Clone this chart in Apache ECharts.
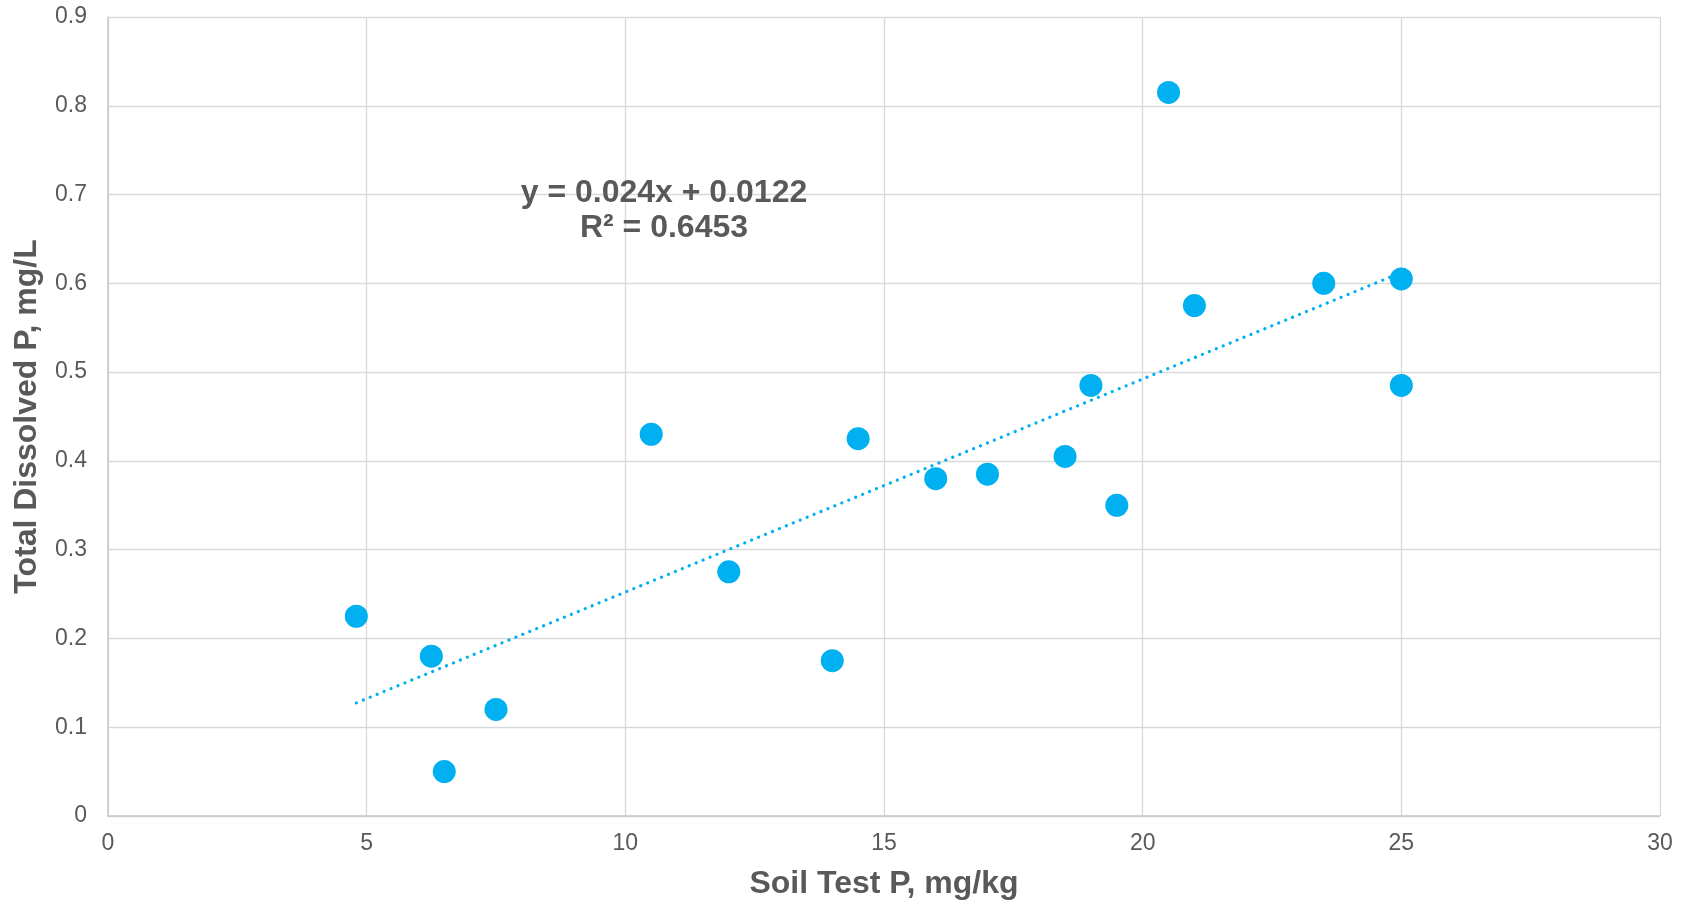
<!DOCTYPE html>
<html>
<head>
<meta charset="utf-8">
<title>Total Dissolved P vs Soil Test P</title>
<script src="https://cdn.jsdelivr.net/npm/echarts@6/dist/echarts.min.js"></script>
<style>
  html, body { margin: 0; padding: 0; background: #ffffff; }
  #chart { width: 1689px; height: 905px; }
</style>
</head>
<body>
<div id="chart"></div>
<script>
// Soil test P (mg/kg) and total dissolved P (mg/L) for each sample
const soilTestP = [4.8, 6.25, 6.5, 7.5, 10.5, 12, 14, 14.5, 16, 17, 18.5, 19, 19.5, 20.5, 21, 23.5, 25, 25];
const totalDissolvedP = [0.225, 0.18, 0.05, 0.12, 0.43, 0.275, 0.175, 0.425, 0.38, 0.385, 0.405, 0.485, 0.35, 0.815, 0.575, 0.6, 0.605, 0.485];

// Linear trendline fit
const slope = 0.024;
const intercept = 0.0122;
const rSquared = 0.6453;

const FONT = '"Liberation Sans", Arial, sans-serif';
const TEXT_COLOR = '#595959';
const MARK_COLOR = '#00B0F0';

const points = soilTestP.map((x, i) => [x, totalDissolvedP[i]]);
const xMin = Math.min(...soilTestP);
const xMax = Math.max(...soilTestP);
const trend = [xMin, xMax].map(x => [x, slope * x + intercept]);

const chart = echarts.init(document.getElementById('chart'), null, { renderer: 'canvas' });

chart.setOption({
  animation: false,
  backgroundColor: '#ffffff',
  grid: { left: 108, right: 29, top: 17, bottom: 86, containLabel: false },
  xAxis: {
    type: 'value',
    min: 0, max: 30, interval: 5,
    name: 'Soil Test P, mg/kg',
    nameLocation: 'middle',
    nameGap: 52,
    nameTextStyle: { fontFamily: FONT, fontSize: 32, fontWeight: 'bold', color: TEXT_COLOR },
    axisLine: { show: true, lineStyle: { color: '#c8c8c8', width: 1.5 } },
    axisTick: { show: false },
    axisLabel: { fontFamily: FONT, fontSize: 23, color: TEXT_COLOR, margin: 16 },
    splitLine: { show: true, lineStyle: { color: '#d9d9d9', width: 1.3 } }
  },
  yAxis: {
    type: 'value',
    min: 0, max: 0.9, interval: 0.1,
    name: 'Total Dissolved P, mg/L',
    nameLocation: 'middle',
    nameGap: 65,
    nameRotate: 90,
    nameTextStyle: { fontFamily: FONT, fontSize: 32, fontWeight: 'bold', color: TEXT_COLOR },
    axisLine: { show: true, lineStyle: { color: '#c8c8c8', width: 1.5 } },
    axisTick: { show: false },
    axisLabel: {
      fontFamily: FONT, fontSize: 23, color: TEXT_COLOR, margin: 21,
      formatter: v => (Math.round(v * 10) / 10).toString()
    },
    splitLine: { show: true, lineStyle: { color: '#d9d9d9', width: 1.3 } }
  },
  series: [
    {
      name: 'Trendline',
      type: 'line',
      data: trend,
      symbol: 'none',
      silent: true,
      lineStyle: { color: MARK_COLOR, width: 3.2, type: [0.1, 7.4], cap: 'round' },
      z: 3
    },
    {
      name: 'Samples',
      type: 'scatter',
      data: points,
      symbol: 'circle',
      symbolSize: 23,
      itemStyle: { color: MARK_COLOR, opacity: 1 },
      z: 4
    }
  ],
  graphic: [
    {
      type: 'text',
      x: 664,
      y: 176,
      style: {
        text: 'y = ' + slope + 'x + ' + intercept + '\nR² = ' + rSquared,
        align: 'center',
        verticalAlign: 'top',
        font: 'bold 32px ' + FONT,
        fill: TEXT_COLOR,
        lineHeight: 35
      },
      z: 10
    }
  ]
});
</script>
</body>
</html>
